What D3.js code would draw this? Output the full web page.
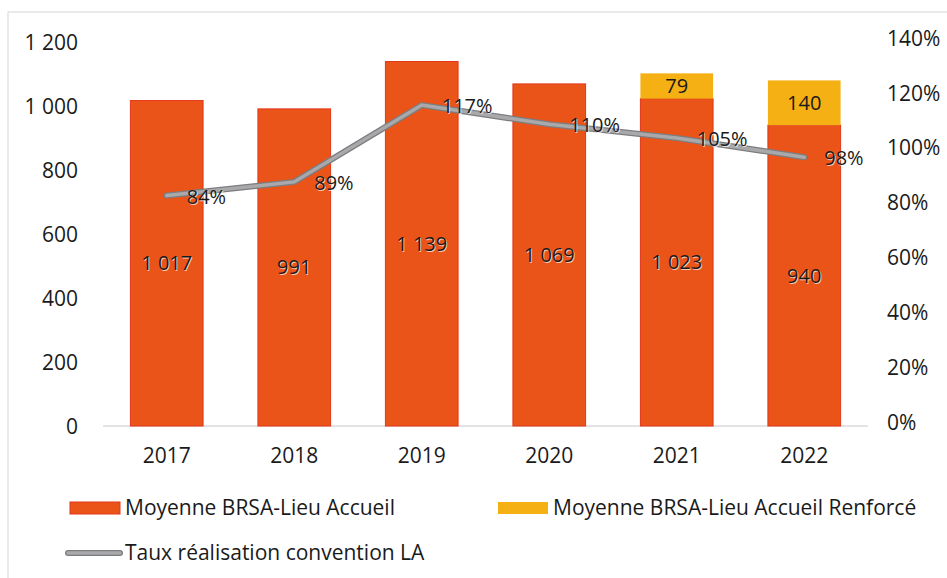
<!DOCTYPE html>
<html>
<head>
<meta charset="utf-8">
<script src="https://cdn.jsdelivr.net/npm/d3@7"></script>
<style>
  body { margin: 0; background: #fff; }
  text { font-family: "Open Sans", sans-serif; fill: #1a1a1a; }
  .halo { text-shadow: 1px 1px 0 rgba(255,255,255,0.7); }
</style>
</head>
<body>
<div id="chart"></div>
<script>
var years = ["2017", "2018", "2019", "2020", "2021", "2022"];
var lieuAccueil = [1017, 991, 1139, 1069, 1023, 940];
var lieuRenforce = [0, 0, 0, 0, 79, 140];
var tauxConvention = [0.84, 0.89, 1.17, 1.10, 1.05, 0.98];
var leftTicks = [0, 200, 400, 600, 800, 1000, 1200];
var rightTicks = [0, 0.2, 0.4, 0.6, 0.8, 1.0, 1.2, 1.4];

var width = 947, height = 578;
var margin = {top: 42, right: 79, bottom: 152, left: 103};
var fs = "21px";

var svg = d3.select("#chart").append("svg")
  .attr("width", width)
  .attr("height", height);

//light frame of the chart area
svg.append("rect")
  .attr("x", 8).attr("y", 12)
  .attr("width", 960).attr("height", 580)
  .attr("fill", "none")
  .attr("stroke", "#d6d6d6");

var g = svg.append("g").attr("transform", "translate(" + margin.left + "," + margin.top + ")");
var w = width - margin.left - margin.right;
var h = height - margin.top - margin.bottom;

//define scales
var x = d3.scaleBand().domain(years).range([0, w]).paddingInner(0.43).paddingOuter(0.215);
var y = d3.scaleLinear().domain([0, 1200]).range([h, 0]);
var y2 = d3.scaleLinear().domain([0, 1.4]).range([h, 0]);

var orange = "#ea5418", yellow = "#f5b014", lineGrey = "#a9a9ab";
var fmt = d3.formatLocale({decimal: ",", thousands: "\u00a0", grouping: [3], currency: ["", ""]}).format(",d");

//left axis
var yAxis = g.append("g")
  .call(d3.axisLeft(y).tickValues(leftTicks).tickSize(0).tickPadding(25).tickFormat(fmt));
yAxis.select(".domain").remove();
yAxis.selectAll("text").style("font-size", fs).attr("fill", "#1a1a1a").attr("dy", "0.35em");

//right axis
var yAxis2 = g.append("g")
  .attr("transform", "translate(" + w + ",0)")
  .call(d3.axisRight(y2).tickValues(rightTicks).tickSize(0).tickPadding(19).tickFormat(d3.format(".0%")));
yAxis2.select(".domain").remove();
yAxis2.selectAll("text").style("font-size", fs).attr("fill", "#1a1a1a").attr("dy", "0.15em");

//baseline
g.append("line")
  .attr("x1", 0).attr("x2", w)
  .attr("y1", y(0)).attr("y2", y(0))
  .attr("stroke", "#c8c8c8").attr("stroke-width", 1);

//x axis labels
var xAxis = g.append("g")
  .attr("transform", "translate(0," + h + ")")
  .call(d3.axisBottom(x).tickSize(0).tickPadding(22));
xAxis.select(".domain").remove();
xAxis.selectAll("text").style("font-size", fs).attr("fill", "#1a1a1a");

//bars
g.selectAll(".bar-la")
  .data(years)
  .enter().append("rect")
  .attr("class", "bar-la")
  .attr("x", function(d) { return x(d); })
  .attr("width", x.bandwidth())
  .attr("y", function(d, i) { return y(lieuAccueil[i]); })
  .attr("height", function(d, i) { return y(0) - y(lieuAccueil[i]); })
  .attr("fill", orange)
  .attr("stroke", "#e2371a").attr("stroke-width", 1);

g.selectAll(".bar-lar")
  .data(years)
  .enter().append("rect")
  .attr("class", "bar-lar")
  .attr("x", function(d) { return x(d); })
  .attr("width", x.bandwidth())
  .attr("y", function(d, i) { return y(lieuAccueil[i] + lieuRenforce[i]); })
  .attr("height", function(d, i) { return y(lieuAccueil[i]) - y(lieuAccueil[i] + lieuRenforce[i]); })
  .attr("fill", yellow);

//bar labels
g.selectAll(".lbl-la")
  .data(years)
  .enter().append("text")
  .attr("class", "lbl-la halo")
  .attr("x", function(d) { return x(d) + x.bandwidth() / 2; })
  .attr("y", function(d, i) { return (y(0) + y(lieuAccueil[i])) / 2; })
  .attr("dy", "0.35em")
  .attr("text-anchor", "middle")
  .style("font-size", "20px")
  .text(function(d, i) { return fmt(lieuAccueil[i]); });

g.selectAll(".lbl-lar")
  .data(years.filter(function(d, i) { return lieuRenforce[i] > 0; }))
  .enter().append("text")
  .attr("x", function(d) { return x(d) + x.bandwidth() / 2; })
  .attr("y", function(d) {
    var i = years.indexOf(d);
    return (y(lieuAccueil[i]) + y(lieuAccueil[i] + lieuRenforce[i])) / 2;
  })
  .attr("dy", "0.35em")
  .attr("text-anchor", "middle")
  .style("font-size", "20px")
  .text(function(d) { return lieuRenforce[years.indexOf(d)]; });

//line
var line = d3.line()
  .x(function(d, i) { return x(years[i]) + x.bandwidth() / 2; })
  .y(function(d) { return y2(d); });

g.append("path")
  .attr("d", line(tauxConvention))
  .attr("fill", "none")
  .attr("stroke", "#7d7d80")
  .attr("stroke-width", 6)
  .attr("stroke-linecap", "round");
g.append("path")
  .attr("d", line(tauxConvention))
  .attr("fill", "none")
  .attr("stroke", lineGrey)
  .attr("stroke-width", 3.5)
  .attr("stroke-linecap", "round");

//line labels
g.selectAll(".lbl-taux")
  .data(tauxConvention)
  .enter().append("text")
  .attr("class", "halo")
  .attr("x", function(d, i) { return x(years[i]) + x.bandwidth() / 2 + 20; })
  .attr("y", function(d) { return y2(d); })
  .attr("dy", "0.4em")
  .style("font-size", "20px")
  .text(function(d) { return d3.format(".0%")(d); });

//legend
var legend = svg.append("g");
var items = [
  {label: "Moyenne BRSA-Lieu Accueil", color: orange, x: 70, y: 508, type: "bar"},
  {label: "Moyenne BRSA-Lieu Accueil Renforcé", color: yellow, x: 498, y: 508, type: "bar"},
  {label: "Taux réalisation convention LA", color: lineGrey, x: 68, y: 553, type: "line"}
];
items.forEach(function(it) {
  if (it.type === "bar") {
    legend.append("rect")
      .attr("x", it.x).attr("y", it.y - 6)
      .attr("width", 50).attr("height", 12)
      .attr("fill", it.color)
      .attr("stroke", it === items[0] ? "#e2371a" : "none");
  } else {
    legend.append("line")
      .attr("x1", it.x).attr("x2", it.x + 52)
      .attr("y1", it.y).attr("y2", it.y)
      .attr("stroke", "#7d7d80").attr("stroke-width", 6).attr("stroke-linecap", "round");
    legend.append("line")
      .attr("x1", it.x).attr("x2", it.x + 52)
      .attr("y1", it.y).attr("y2", it.y)
      .attr("stroke", it.color).attr("stroke-width", 3.5).attr("stroke-linecap", "round");
  }
  legend.append("text")
    .attr("x", it.x + (it.type === "bar" ? 55 : 57))
    .attr("y", it.y)
    .attr("dy", "0.35em")
    .style("font-size", fs)
    .text(it.label);
});
</script>
</body>
</html>
